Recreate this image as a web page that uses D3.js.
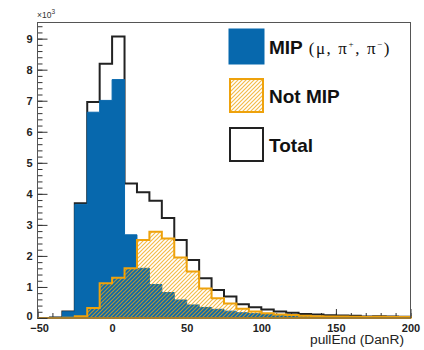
<!DOCTYPE html>
<html>
<head>
<meta charset="utf-8">
<script src="https://cdn.jsdelivr.net/npm/d3@7"></script>
<style>
  body { margin: 0; background: #fff; }
  text { font-family: "Liberation Sans", Arial, sans-serif; }
</style>
</head>
<body>
<div id="wrapper"></div>
<script>
// histogram pullEnd (DanR), 30 bins from -50 to 200, counts in units of 10^3
const xRange = [-50, 200]
const nBins = 30
const mipCounts = [0, 0.02, 0.2, 3.66, 6.63, 7.01, 7.68, 2.68, 1.6, 1.08,
  0.82, 0.58, 0.42, 0.34, 0.28, 0.22, 0.17, 0.14, 0.11, 0.09,
  0.07, 0.06, 0.05, 0.04, 0.03, 0.03, 0.02, 0.02, 0.02, 0.01]
const notMipCounts = [0, 0, 0.01, 0.06, 0.32, 1.12, 1.3, 1.6, 2.51, 2.78,
  2.56, 1.95, 1.5, 0.95, 0.64, 0.47, 0.3, 0.21, 0.15, 0.11,
  0.1, 0.07, 0.06, 0.05, 0.05, 0.04, 0.03, 0.04, 0.03, 0.03]
const totalCounts = [0, 0.02, 0.21, 3.7, 6.96, 8.19, 9.07, 4.33, 4.05, 3.78,
  3.22, 2.51, 1.87, 1.28, 0.9, 0.69, 0.44, 0.35, 0.27, 0.21,
  0.17, 0.13, 0.11, 0.09, 0.08, 0.07, 0.05, 0.06, 0.05, 0.04]
const yMax = 9.52
const xTicks = [-50, 0, 50, 100, 150, 200]
const yTicks = [0, 1, 2, 3, 4, 5, 6, 7, 8, 9]
const legendItems = ['MIP', 'Not MIP', 'Total']

const width = 424
const height = 350
const frame = {left: 37.5, right: 410.5, top: 22.5, bottom: 318}

const blue = '#0768ad'
const orange = '#eea20c'

const svg = d3.select('#wrapper').append('svg')
  .attr('width', width)
  .attr('height', height)

const defs = svg.append('defs')
const hatch = defs.append('pattern')
  .attr('id', 'hatch')
  .attr('patternUnits', 'userSpaceOnUse')
  .attr('width', 4).attr('height', 4)
hatch.append('path')
  .attr('d', 'M-1,1 l2,-2 M0,4 l4,-4 M3,5 l2,-2')
  .attr('stroke', orange)
  .attr('stroke-opacity', 0.75)
  .attr('stroke-width', 1.2)

const x = d3.scaleLinear().domain(xRange).range([frame.left, frame.right])
const y = d3.scaleLinear().domain([0, yMax]).range([frame.bottom, frame.top])
const binW = (xRange[1] - xRange[0]) / nBins
const binLo = d3.range(nBins).map(i => xRange[0] + i * binW)

// step outline of a histogram
function stepPath(counts, closed) {
  let p = d3.path()
  p.moveTo(x(binLo[0]), y(0))
  counts.forEach((c, i) => {
    p.lineTo(x(binLo[i]), y(c))
    p.lineTo(x(binLo[i] + binW), y(c))
  })
  p.lineTo(x(xRange[1]), y(0))
  if (closed) p.closePath()
  return p.toString()
}

// axes ticks (drawn under the histograms)
const yMinor = d3.range(0, yMax, 0.2)
svg.append('g')
  .attr('transform', `translate(${frame.left},0)`)
  .call(d3.axisLeft(y).tickValues(yMinor).tickSize(-5).tickFormat(''))
  .call(g => g.select('.domain').remove())
svg.append('g')
  .attr('transform', `translate(0,${frame.bottom})`)
  .call(d3.axisBottom(x).tickValues(d3.range(-50, 201, 10)).tickSize(-5).tickFormat(''))
  .call(g => g.select('.domain').remove())
svg.append('g')
  .attr('transform', `translate(0,${frame.bottom})`)
  .call(d3.axisBottom(x).tickValues(xTicks).tickSize(-9).tickFormat(''))
  .call(g => g.select('.domain').remove())
svg.selectAll('.tick line').attr('stroke', '#333')

// histograms
svg.append('path')
  .attr('d', stepPath(totalCounts, false))
  .attr('fill', 'none')
  .attr('stroke', '#222')
  .attr('stroke-width', 2)
svg.append('path')
  .attr('d', stepPath(mipCounts, true))
  .attr('fill', blue)
  .attr('stroke', blue)
  .attr('stroke-width', 1)
svg.append('path')
  .attr('d', stepPath(notMipCounts, true))
  .attr('fill', 'url(#hatch)')
  .attr('stroke', orange)
  .attr('stroke-width', 2)

// frame
svg.append('rect')
  .attr('x', frame.left).attr('y', frame.top)
  .attr('width', frame.right - frame.left)
  .attr('height', frame.bottom - frame.top)
  .attr('fill', 'none')
  .attr('stroke', '#555')
  .attr('stroke-width', 1)

// y axis
const yAxis = svg.append('g')
  .attr('transform', `translate(${frame.left},0)`)
  .call(d3.axisLeft(y).tickValues(yTicks).tickSize(-10).tickPadding(5).tickFormat(d3.format('d')))
yAxis.select('.domain').remove()
yAxis.selectAll('.tick line').attr('stroke', '#333')
yAxis.selectAll('text')
  .attr('font-size', 11).attr('font-weight', 'bold').attr('fill', '#222')
  .attr('font-family', '"Liberation Sans", Arial, sans-serif')
yAxis.selectAll('.tick').filter(d => d === 0).select('text').attr('dy', '0.1em')

// x axis labels
const xAxis = svg.append('g')
  .attr('transform', `translate(0,${frame.bottom})`)
  .call(d3.axisBottom(x).tickValues(xTicks).tickSize(0).tickPadding(6))
xAxis.select('.domain').remove()
xAxis.selectAll('text')
  .attr('font-size', 11).attr('font-weight', 'bold').attr('fill', '#222')
  .attr('font-family', '"Liberation Sans", Arial, sans-serif')
xAxis.selectAll('.tick').filter(d => d === -50).select('text').attr('dx', '0.15em')

svg.append('text')
  .attr('x', 404).attr('y', 344)
  .attr('text-anchor', 'end')
  .attr('font-size', 12)
  .attr('textLength', 94)
  .attr('lengthAdjust', 'spacingAndGlyphs')
  .attr('fill', '#222')
  .text('pullEnd (DanR)')

const expo = svg.append('text')
  .attr('x', 37).attr('y', 18)
  .attr('font-size', 8.5)
  .attr('fill', '#333')
expo.append('tspan').text('×10')
expo.append('tspan').attr('dy', -4).attr('font-size', 6.5).text('3')

// legend
const legend = svg.append('g').attr('transform', 'translate(229,29)')
const rowH = 49
const sw = 35
legend.append('rect')
  .attr('x', 0).attr('y', 0).attr('width', sw).attr('height', sw)
  .attr('fill', blue).attr('stroke', blue)
legend.append('rect')
  .attr('x', 1).attr('y', rowH + 1).attr('width', sw - 2).attr('height', sw - 2)
  .attr('fill', 'url(#hatch)').attr('stroke', orange).attr('stroke-width', 2)
legend.append('rect')
  .attr('x', 1).attr('y', 2 * rowH + 1).attr('width', sw - 2).attr('height', sw - 2)
  .attr('fill', '#fff').attr('stroke', '#222').attr('stroke-width', 2)

const lt = legend.selectAll('.ltext')
  .data(legendItems)
  .enter().append('text')
    .attr('class', 'ltext')
    .attr('x', 40)
    .attr('y', (d, i) => i * rowH + sw / 2 + 7)
    .attr('font-size', 19)
    .attr('font-weight', 'bold')
    .attr('fill', '#111')
    .text(d => d)
const mipText = d3.select(lt.nodes()[0])
const sym = mipText.append('tspan')
  .attr('font-family', '"Liberation Serif", "Times New Roman", serif')
  .attr('font-weight', 'normal')
  .attr('font-size', 17)
  .attr('letter-spacing', 1.6)
sym.append('tspan').text(' (μ, π')
sym.append('tspan').attr('dy', -7).attr('font-size', 9).text('+')
sym.append('tspan').attr('dy', 7).text(',  π')
sym.append('tspan').attr('dy', -7).attr('font-size', 9).text('−')
sym.append('tspan').attr('dy', 7).text(')')
</script>
</body>
</html>
